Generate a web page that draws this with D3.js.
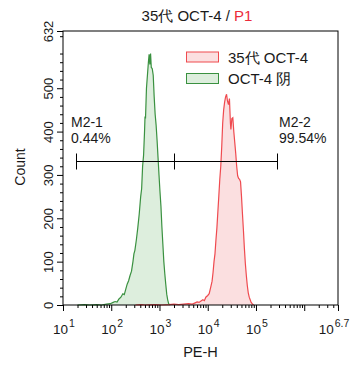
<!DOCTYPE html>
<html><head><meta charset="utf-8">
<script src="https://cdn.jsdelivr.net/npm/d3@7"></script>
<style>body{margin:0;background:#fff}svg{display:block;font-family:"Liberation Sans",Arial,sans-serif}</style>
</head><body><svg id="c" width="353" height="365"></svg>
<script>
// ---- data ----
const titleMain = "35代 OCT-4 / ";
const titleGate = "P1";
const seriesNames = ["35代 OCT-4", "OCT-4 阴"];
const xTickExps = [1, 2, 3, 4, 5, 6, 6.7];
const xTickLabels = ["1", "2", "3", "4", "5", "", "6.7"];
const yTicks = [0, 100, 200, 300, 400, 500, 632];
const yMax = 632;

const greenLog = [1.30,1.45,1.55,1.70,1.80,1.90,1.98,2.04,2.08,2.12,2.16,2.20,2.24,2.27,2.30,2.33,2.36,2.39,2.42,2.45,2.47,2.49,2.52,2.55,2.58,2.61,2.63,2.65,2.67,2.69,2.70,2.71,2.73,2.75,2.77,2.785,2.80,2.815,2.83,2.85,2.87,2.89,2.91,2.93,2.95,2.97,2.99,3.01,3.03,3.05,3.07,3.09,3.11,3.13,3.15,3.17,3.19,3.21];
const greenCount = [0,1,0,1,0,2,3,6,8,7,14,18,26,24,36,48,56,68,78,100,118,126,150,178,210,250,268,320,345,400,435,430,500,530,560,578,555,580,548,545,530,480,440,415,380,340,300,262,228,180,140,100,72,48,25,12,3,0];

const redLog = [2.50,2.62,2.70,2.90,3.05,3.20,3.30,3.40,3.50,3.60,3.68,3.74,3.78,3.82,3.86,3.90,3.93,3.96,4.00,4.03,4.06,4.09,4.11,4.13,4.15,4.17,4.19,4.21,4.23,4.25,4.27,4.29,4.31,4.33,4.35,4.37,4.39,4.41,4.43,4.45,4.47,4.48,4.50,4.52,4.54,4.56,4.58,4.60,4.62,4.64,4.66,4.68,4.70,4.72,4.74,4.76,4.78,4.80,4.82,4.84,4.86,4.88,4.90,4.92,4.95];
const redCount = [0,1,0,1,0,1,2,1,2,3,2,5,7,6,9,12,10,18,22,26,40,55,75,100,118,150,178,215,252,290,320,365,420,450,468,480,486,470,462,476,420,405,430,432,400,375,350,320,298,292,290,284,250,210,172,130,95,68,45,28,18,12,6,3,0];

const markerNames = ["M2-1", "M2-2"];
const markerPercents = ["0.44%", "99.54%"];
const markerBounds = [18.6, 2000, 275000];
const markerLevel = 331;

// ---- layout ----
const svg = d3.select("#c");
const L = 63, R = 338, T = 31, B = 305;
const x = d3.scaleLog().domain([10, Math.pow(10, 6.7)]).range([L, R]);
const y = d3.scaleLinear().domain([0, yMax]).range([B, T]);
const textCol = "#1a1a1a";

// histograms
function drawHist(logs, counts, stroke, fill) {
  const pts = logs.map((l, i) => [Math.pow(10, l), counts[i]]);
  svg.append("path").datum(pts)
    .attr("d", d3.area().x(d => x(d[0])).y0(y(0)).y1(d => y(d[1])))
    .attr("fill", fill);
  svg.append("path").datum(pts)
    .attr("d", d3.line().x(d => x(d[0])).y(d => y(d[1])))
    .attr("fill", "none").attr("stroke", stroke).attr("stroke-width", 1.2);
}
drawHist(greenLog, greenCount, "#3a9140", "#ddeedd");
drawHist(redLog, redCount, "#ef4a4f", "#fbdfe0");

// frame
svg.append("rect").attr("x", L).attr("y", T).attr("width", R - L).attr("height", B - T)
  .attr("fill", "none").attr("stroke", "#000").attr("stroke-width", 1);

// y axis
const yMinor = d3.range(0, yMax, 20).filter(v => v % 100 !== 0);
svg.append("g").attr("transform", `translate(${L},0)`)
  .call(d3.axisLeft(y).tickValues(yMinor).tickSize(3).tickFormat(""))
  .call(g => g.select(".domain").remove());
const ya = svg.append("g").attr("transform", `translate(${L},0)`)
  .call(d3.axisLeft(y).tickValues(yTicks).tickSize(6).tickFormat(d3.format("d")));
ya.select(".domain").remove();
ya.selectAll("text").attr("transform", "rotate(-90)").attr("x", 0).attr("y", -10)
  .attr("dy", 0).attr("text-anchor", "middle").attr("font-size", 13)
  .attr("font-family", "Liberation Sans, Arial").attr("fill", textCol);

// x axis
const xMinor = [];
for (let e = 1; e < 7; e++) for (let m = 2; m <= 9; m++) {
  const v = m * Math.pow(10, e);
  if (v < Math.pow(10, 6.7)) xMinor.push(v);
}
svg.append("g").attr("transform", `translate(0,${B})`)
  .call(d3.axisBottom(x).tickValues(xMinor).tickSize(3).tickFormat(""))
  .call(g => g.select(".domain").remove());
svg.append("g").attr("transform", `translate(0,${B})`)
  .call(d3.axisBottom(x).tickValues(xTickExps.map(e => Math.pow(10, e))).tickSize(6).tickFormat(""))
  .call(g => g.select(".domain").remove());
xTickExps.forEach((e, i) => {
  if (!xTickLabels[i]) return;
  const t = svg.append("text").attr("x", x(Math.pow(10, e)) + (e === 6.7 ? -4 : 1)).attr("y", 334)
    .attr("text-anchor", "middle").attr("font-size", 13.5).attr("fill", textCol);
  t.append("tspan").text("10");
  t.append("tspan").attr("dy", -7).attr("dx", 1).attr("font-size", 10.5).text(xTickLabels[i]);
});

// axis titles
svg.append("text").attr("x", (L + R) / 2 + 0).attr("y", 357).attr("text-anchor", "middle")
  .attr("font-size", 14.5).attr("fill", textCol).text("PE-H");
svg.append("text").attr("transform", "translate(25,167) rotate(-90)").attr("text-anchor", "middle")
  .attr("font-size", 14).attr("fill", textCol).text("Count");

// title
const tt = svg.append("text").attr("x", 197).attr("y", 21).attr("text-anchor", "middle")
  .attr("font-size", 15).attr("fill", textCol);
tt.append("tspan").text(titleMain);
tt.append("tspan").attr("fill", "#ec2a3a").text(titleGate);

// legend
const legCols = [["#ef4a4f", "#fbdfe0"], ["#3a9140", "#ddeedd"]];
seriesNames.forEach((n, i) => {
  const yy = 52 + i * 21.5;
  svg.append("rect").attr("x", 186.5).attr("y", yy).attr("width", 32).attr("height", 10)
    .attr("fill", legCols[i][1]).attr("stroke", legCols[i][0]).attr("stroke-width", 1);
  svg.append("text").attr("x", 228).attr("y", yy + 10.5).attr("font-size", 15)
    .attr("fill", textCol).text(n);
});

// markers
const my = Math.round(y(markerLevel)) + 0.5;
svg.append("line").attr("x1", x(markerBounds[0])).attr("x2", x(markerBounds[2]))
  .attr("y1", my).attr("y2", my).attr("stroke", "#000").attr("stroke-width", 1);
markerBounds.forEach(b => {
  const xx = Math.round(x(b)) + 0.5;
  svg.append("line").attr("x1", xx).attr("x2", xx).attr("y1", my - 8).attr("y2", my + 8)
    .attr("stroke", "#000").attr("stroke-width", 1);
});
const markerTextX = [71, 279];
markerNames.forEach((n, i) => {
  svg.append("text").attr("x", markerTextX[i]).attr("y", 127).attr("font-size", 14)
    .attr("fill", textCol).text(n);
  svg.append("text").attr("x", markerTextX[i]).attr("y", 143).attr("font-size", 14)
    .attr("fill", textCol).text(markerPercents[i]);
});
</script></body></html>
